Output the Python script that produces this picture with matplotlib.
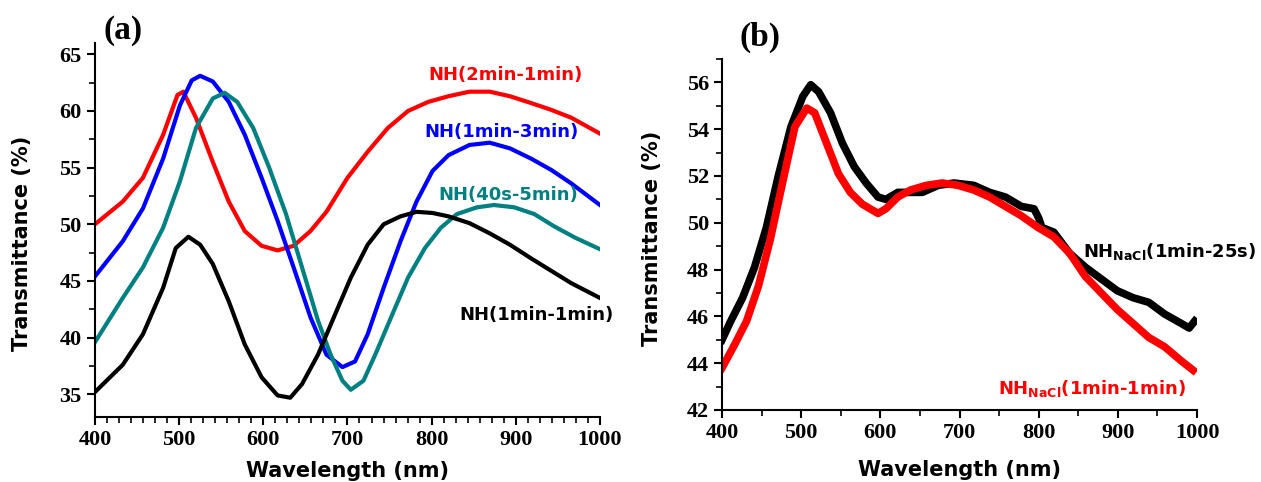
import matplotlib
matplotlib.use('Agg')

import matplotlib.pyplot as plt
from matplotlib.ticker import MultipleLocator

plt.rcParams['mathtext.fontset'] = 'custom'
plt.rcParams['mathtext.rm'] = 'DejaVu Sans:bold'
plt.rcParams['mathtext.default'] = 'rm'

# panel (a)
wl_red = [400, 433, 457, 481, 498, 505, 520, 540, 559, 578, 598, 617, 636, 656, 675,
          700, 724, 748, 772, 796, 820, 845, 869, 893, 918, 942, 966, 1000]
t_red = [50.0, 52.0, 54.1, 57.9, 61.4, 61.7, 59.4, 55.5, 52.0, 49.4, 48.1, 47.7, 48.1,
         49.4, 51.1, 54.1, 56.4, 58.5, 60.0, 60.8, 61.3, 61.7, 61.7, 61.3, 60.7, 60.1,
         59.4, 58.0]

wl_blue = [400, 433, 457, 481, 501, 515, 525, 540, 559, 578, 598, 617, 636, 656, 675,
           694, 709, 724, 743, 763, 782, 801, 820, 845, 869, 893, 918, 942, 966, 1000]
t_blue = [45.4, 48.5, 51.4, 55.8, 60.5, 62.7, 63.1, 62.6, 60.8, 57.9, 54.1, 50.3, 46.2,
          41.8, 38.5, 37.4, 37.9, 40.3, 44.4, 48.5, 52.0, 54.7, 56.1, 57.0, 57.2, 56.7,
          55.8, 54.8, 53.6, 51.7]

wl_teal = [400, 433, 457, 481, 501, 520, 540, 554, 569, 588, 607, 627, 646, 665, 680,
           694, 704, 719, 733, 753, 772, 792, 811, 830, 854, 874, 898, 922, 946, 971, 1000]
t_teal = [39.6, 43.5, 46.2, 49.7, 53.8, 58.5, 61.1, 61.6, 60.8, 58.5, 55.0, 50.9, 46.2,
          41.5, 38.5, 36.2, 35.4, 36.2, 38.5, 42.0, 45.3, 47.9, 49.7, 50.9, 51.5, 51.7,
          51.5, 50.9, 49.8, 48.8, 47.8]

wl_black = [400, 433, 457, 481, 496, 511, 525, 540, 559, 578, 598, 617, 632, 646, 665,
            685, 704, 724, 743, 763, 782, 801, 820, 845, 869, 893, 918, 942, 966, 1000]
t_black = [35.2, 37.6, 40.3, 44.4, 47.9, 48.9, 48.2, 46.5, 43.2, 39.4, 36.5, 34.9, 34.7,
           35.9, 38.5, 42.0, 45.3, 48.2, 50.0, 50.7, 51.1, 51.0, 50.7, 50.1, 49.2, 48.2,
           47.0, 45.9, 44.8, 43.5]

# panel (b)
wl_b_black = [400, 411, 426, 441, 456, 471, 487, 502, 512, 522, 537, 552, 567, 582, 597,
              607, 622, 638, 653, 673, 693, 718, 738, 758, 778, 794, 800, 804, 819, 839,
              859, 879, 899, 919, 939, 959, 980, 990, 997]
t_b_black = [45.0, 45.8, 46.8, 48.1, 49.8, 52.0, 54.1, 55.4, 55.9, 55.6, 54.7, 53.4, 52.4,
             51.7, 51.1, 51.0, 51.3, 51.3, 51.3, 51.6, 51.7, 51.6, 51.3, 51.1, 50.7, 50.6,
             50.2, 49.8, 49.6, 48.7, 48.1, 47.6, 47.1, 46.8, 46.6, 46.1, 45.7, 45.5, 45.8]

wl_b_red = [400, 416, 431, 446, 461, 477, 492, 507, 517, 532, 547, 562, 577, 597, 607,
            622, 638, 658, 678, 698, 718, 738, 758, 778, 799, 819, 839, 859, 879, 899,
            919, 939, 959, 980, 995]
t_b_red = [43.8, 44.8, 45.8, 47.3, 49.3, 51.8, 54.1, 54.9, 54.7, 53.4, 52.1, 51.3, 50.8,
           50.4, 50.6, 51.1, 51.4, 51.6, 51.7, 51.6, 51.4, 51.1, 50.7, 50.3, 49.8, 49.4,
           48.7, 47.7, 47.0, 46.3, 45.7, 45.1, 44.7, 44.1, 43.7]

tick_font = dict(family='Liberation Serif', weight='bold', size=16)
lab_font = dict(family='DejaVu Sans', weight='bold', size=15)
txt_font = dict(family='DejaVu Sans', weight='bold', size=13)

fig = plt.figure(figsize=(12.61, 4.82), dpi=100)

ax = fig.add_axes([0.0753, 0.1349, 0.4005, 0.776])
ax.plot(wl_red, t_red, color='#ff0000', lw=3)
ax.plot(wl_blue, t_blue, color='#0000ff', lw=3)
ax.plot(wl_teal, t_teal, color='#008080', lw=3)
ax.plot(wl_black, t_black, color='black', lw=3)
ax.set_xlim(400, 1000)
ax.set_ylim(33, 66)
ax.xaxis.set_major_locator(MultipleLocator(100))
ax.xaxis.set_minor_locator(MultipleLocator(100 / 7))
ax.yaxis.set_major_locator(MultipleLocator(5))
ax.yaxis.set_minor_locator(MultipleLocator(2.5))

ax.text(888, 63.2, 'NH(2min-1min)', color='#ff0000', ha='center', va='center', **txt_font)
ax.text(883, 58.1, 'NH(1min-3min)', color='#0000ff', ha='center', va='center', **txt_font)
ax.text(891, 52.6, 'NH(40s-5min)', color='#008080', ha='center', va='center', **txt_font)
ax.text(925, 42.0, 'NH(1min-1min)', color='black', ha='center', va='center', **txt_font)
ax.set_xlabel('Wavelength (nm)', labelpad=8, **lab_font)
ax.set_ylabel('Transmittance (%)', **lab_font)
ax.yaxis.set_label_coords(-0.125, 0.465)

ax2 = fig.add_axes([0.5726, 0.1494, 0.3767, 0.7282])
ax2.plot(wl_b_black, t_b_black, color='black', lw=5.5)
ax2.plot(wl_b_red, t_b_red, color='#ff0000', lw=5.5)
ax2.set_xlim(400, 1000)
ax2.set_ylim(42, 57)
ax2.xaxis.set_major_locator(MultipleLocator(100))
ax2.xaxis.set_minor_locator(MultipleLocator(50))
ax2.yaxis.set_major_locator(MultipleLocator(2))
ax2.yaxis.set_minor_locator(MultipleLocator(1))

ax2.text(966, 48.77, r'NH$_{NaCl}$(1min-25s)', color='black', ha='center', va='center', **txt_font)
ax2.text(867, 42.9, r'NH$_{NaCl}$(1min-1min)', color='#ff0000', ha='center', va='center', **txt_font)
ax2.set_xlabel('Wavelength (nm)', labelpad=12, **lab_font)
ax2.set_ylabel('Transmittance (%)', **lab_font)
ax2.yaxis.set_label_coords(-0.126, 0.49)

for a in (ax, ax2):
    a.spines['top'].set_visible(False)
    a.spines['right'].set_visible(False)
    a.spines['left'].set_linewidth(1.5)
    a.spines['bottom'].set_linewidth(1.5)
    a.tick_params(which='major', direction='out', length=6, width=1.5)
    a.tick_params(which='minor', direction='out', length=4, width=1.2)
    for lbl in a.get_xticklabels() + a.get_yticklabels():
        lbl.set_fontproperties(matplotlib.font_manager.FontProperties(**tick_font))

fig.text(123 / 1261, 1 - 30 / 482, '(a)', ha='center', va='center',
         family='Liberation Serif', weight='bold', size=24)
fig.text(760 / 1261, 1 - 37 / 482, '(b)', ha='center', va='center',
         family='Liberation Serif', weight='bold', size=24)

fig.savefig('out.png', dpi=100)
